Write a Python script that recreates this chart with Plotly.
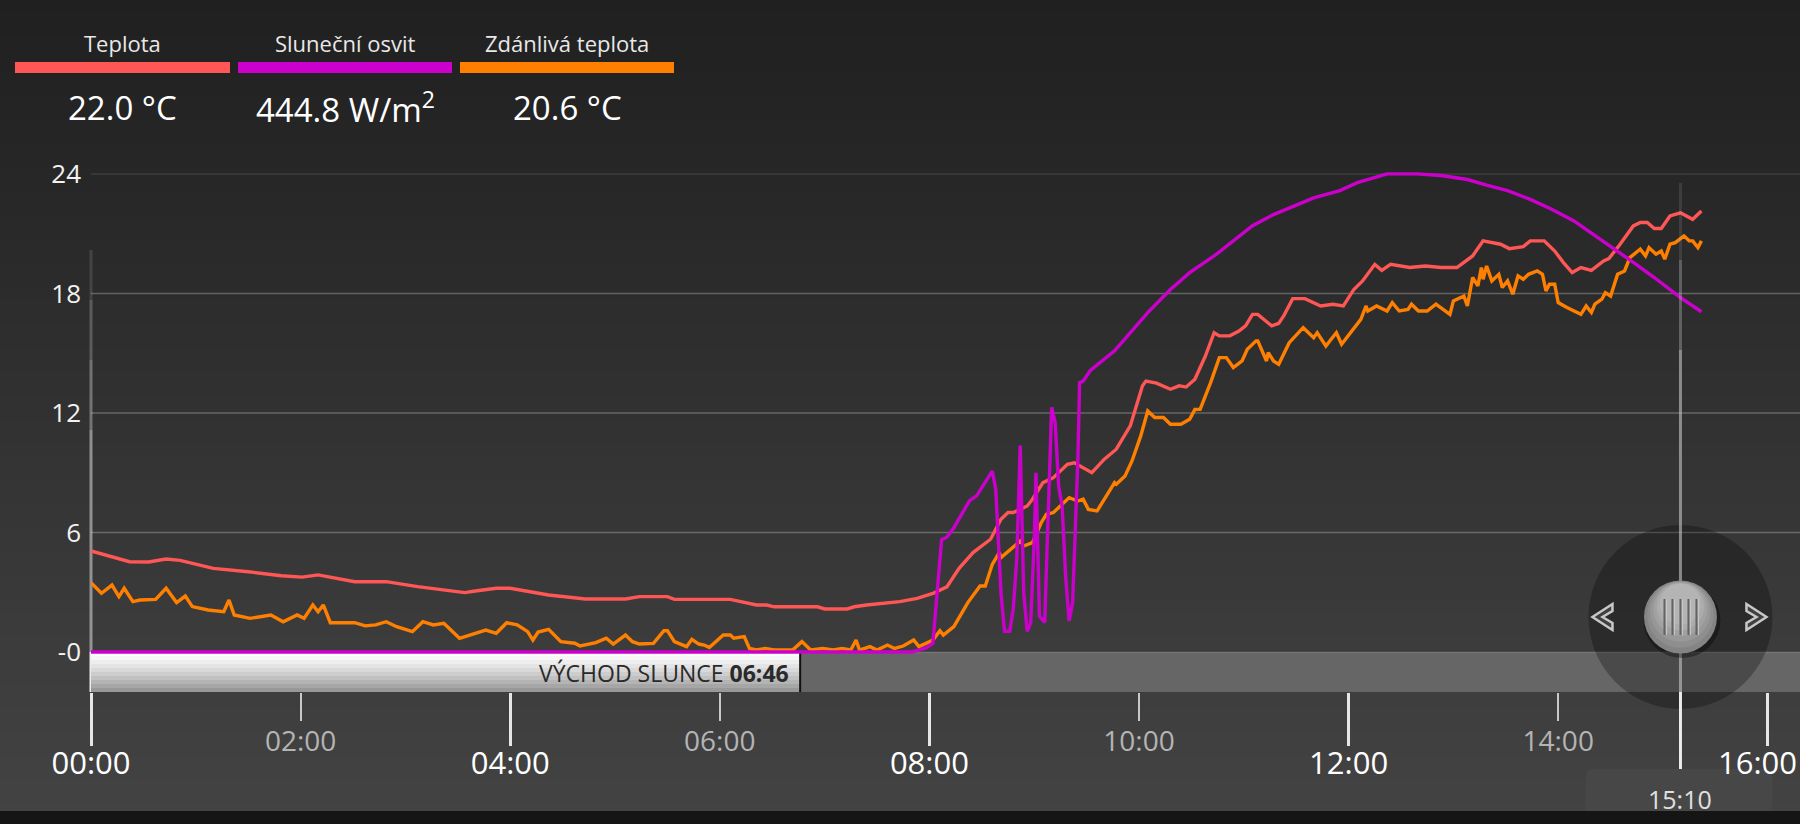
import pandas as pd
import plotly.graph_objects as go

DAY = "2024-05-14 "

# ---------------- data ----------------
teplota_cas = ["00:00", "00:22", "00:33", "00:43", "00:51", "01:10", "01:30", "01:49", "02:01", "02:10",
               "02:31", "02:49", "03:07", "03:22", "03:34", "03:39", "03:52", "04:00", "04:22", "04:43",
               "05:06", "05:14", "05:30", "05:34", "06:06", "06:12", "06:21", "06:27", "06:31", "06:56",
               "07:00", "07:13", "07:17", "07:24", "07:34", "07:43", "07:53", "08:02", "08:10", "08:17",
               "08:25", "08:35", "08:41", "08:45", "08:48", "08:56", "08:59", "09:05", "09:11", "09:19",
               "09:23", "09:29", "09:33", "09:40", "09:47", "09:55", "10:02", "10:04", "10:10", "10:18",
               "10:23", "10:27", "10:32", "10:38", "10:43", "10:46", "10:52", "10:57", "11:01", "11:05",
               "11:08", "11:16", "11:20", "11:23", "11:28", "11:35", "11:44", "11:51", "11:57", "12:03",
               "12:08", "12:15", "12:19", "12:24", "12:35", "12:44", "12:53", "13:02", "13:08", "13:11",
               "13:17", "13:21", "13:27", "13:32", "13:40", "13:44", "13:52", "13:58", "14:03", "14:08",
               "14:13", "14:19", "14:22", "14:26", "14:29", "14:35", "14:43", "14:47", "14:51", "14:55",
               "14:59", "15:04", "15:10", "15:17", "15:22"]
teplota = [5.07, 4.53, 4.52, 4.67, 4.6, 4.2, 4.03, 3.83, 3.76, 3.87,
           3.53, 3.53, 3.28, 3.11, 2.98, 3.05, 3.2, 3.2, 2.86, 2.66,
           2.66, 2.78, 2.78, 2.64, 2.64, 2.53, 2.36, 2.36, 2.27, 2.27,
           2.16, 2.16, 2.27, 2.36, 2.44, 2.53, 2.69, 2.94, 3.27, 4.2,
           4.99, 5.66, 6.66, 7.0, 7.0, 7.33, 7.67, 8.5, 8.75, 9.42,
           9.5, 9.17, 9.0, 9.67, 10.18, 11.35, 13.36, 13.6, 13.5, 13.19,
           13.36, 13.3, 13.69, 14.86, 16.03, 15.87, 15.87, 16.1, 16.37, 16.95,
           16.95, 16.37, 16.5, 16.9, 17.74, 17.74, 17.37, 17.46, 17.37, 18.2,
           18.63, 19.46, 19.16, 19.46, 19.3, 19.38, 19.3, 19.3, 19.72, 19.88,
           20.64, 20.56, 20.47, 20.25, 20.35, 20.64, 20.64, 20.13, 19.55, 19.05,
           19.3, 19.16, 19.38, 19.63, 19.75, 20.42, 21.39, 21.56, 21.56, 21.26,
           21.26, 21.89, 22.05, 21.72, 22.14]

osvit_cas = ["00:00", "07:50", "07:58", "08:02", "08:05", "08:07", "08:10", "08:14", "08:23", "08:27",
             "08:36", "08:38", "08:41", "08:43", "08:46", "08:48", "08:50", "08:52", "08:54", "08:56",
             "08:58", "09:00", "09:01", "09:03", "09:06", "09:08", "09:10", "09:12", "09:14", "09:16",
             "09:18", "09:20", "09:22", "09:25", "09:26", "09:28", "09:32", "09:46", "10:05", "10:18",
             "10:29", "10:43", "10:54", "11:05", "11:17", "11:31", "11:40", "11:55", "12:05", "12:22",
             "12:39", "12:53", "13:08", "13:19", "13:31", "13:44", "13:56", "14:09", "14:19", "14:32",
             "14:43", "14:55", "15:10", "15:22"]
osvit = [0, 0, 5, 11, 90, 141, 144, 156, 190, 196,
         227, 204, 74, 26, 26, 54, 116, 259, 74, 26,
         37, 140, 225, 45, 37, 179, 307, 288, 208, 183,
         95, 39, 62, 242, 338, 340, 353, 378, 426, 455,
         476, 497, 516, 535, 549, 562, 570, 579, 589, 600,
         600, 598, 593, 586, 579, 568, 556, 541, 526, 506,
         489, 470, 444.8, 427]

zdanliva_cas = ["00:00", "00:06", "00:12", "00:16", "00:19", "00:24", "00:28", "00:37", "00:43", "00:49",
                "00:54", "00:58", "01:07", "01:16", "01:19", "01:22", "01:31", "01:43", "01:50", "01:58",
                "02:02", "02:07", "02:10", "02:13", "02:17", "02:31", "02:37", "02:43", "02:49", "02:55",
                "03:04", "03:10", "03:16", "03:22", "03:31", "03:37", "03:46", "03:52", "03:58", "04:04",
                "04:10", "04:13", "04:16", "04:22", "04:29", "04:37", "04:40", "04:49", "04:52", "04:55",
                "04:59", "05:06", "05:10", "05:14", "05:22", "05:28", "05:30", "05:34", "05:41", "05:44",
                "05:48", "05:51", "05:54", "06:00", "06:02", "06:06", "06:08", "06:14", "06:17", "06:21",
                "06:26", "06:31", "06:42", "06:47", "06:52", "06:59", "07:05", "07:10", "07:15", "07:18",
                "07:20", "07:26", "07:30", "07:36", "07:40", "07:45", "07:51", "07:54", "07:58", "08:02",
                "08:06", "08:08", "08:14", "08:18", "08:22", "08:29", "08:32", "08:36", "08:40", "08:41",
                "08:48", "08:52", "08:54", "08:59", "09:04", "09:07", "09:11", "09:20", "09:25", "09:28",
                "09:31", "09:36", "09:46", "09:47", "09:52", "09:56", "10:01", "10:05", "10:09", "10:14",
                "10:18", "10:24", "10:29", "10:32", "10:35", "10:41", "10:46", "10:50", "10:54", "10:59",
                "11:02", "11:07", "11:08", "11:13", "11:14", "11:17", "11:20", "11:26", "11:34", "11:36",
                "11:40", "11:42", "11:47", "11:50", "11:53", "11:56", "12:01", "12:07", "12:10", "12:11",
                "12:16", "12:22", "12:25", "12:29", "12:34", "12:36", "12:40", "12:45", "12:50", "12:55",
                "12:58", "13:00", "13:06", "13:08", "13:11", "13:14", "13:16", "13:17", "13:19", "13:22",
                "13:26", "13:28", "13:31", "13:34", "13:37", "13:40", "13:43", "13:48", "13:51", "13:53",
                "13:55", "13:58", "14:00", "14:05", "14:11", "14:13", "14:16", "14:19", "14:21", "14:25",
                "14:27", "14:30", "14:34", "14:38", "14:41", "14:47", "14:50", "14:52", "14:56", "14:59",
                "15:01", "15:04", "15:07", "15:12", "15:15", "15:17", "15:20", "15:22"]
zdanliva = [3.48, 2.95, 3.36, 2.78, 3.2, 2.53, 2.61, 2.64, 3.2, 2.48,
            2.81, 2.28, 2.11, 2.02, 2.61, 1.86, 1.69, 1.86, 1.52, 1.86,
            1.69, 2.36, 2.02, 2.36, 1.47, 1.47, 1.31, 1.36, 1.52, 1.27,
            1.02, 1.52, 1.36, 1.44, 0.69, 0.86, 1.1, 0.94, 1.47, 1.36,
            1.02, 0.6, 1.0, 1.14, 0.52, 0.44, 0.3, 0.47, 0.6, 0.69,
            0.4, 0.85, 0.52, 0.4, 0.43, 1.07, 1.07, 0.52, 0.27, 0.64,
            0.4, 0.35, 0.23, 0.69, 0.85, 0.85, 0.69, 0.77, 0.18, 0.1,
            0.18, 0.1, 0.12, 0.52, 0.1, 0.18, 0.1, 0.18, 0.1, 0.6,
            0.1, 0.27, 0.1, 0.35, 0.18, 0.3, 0.6, 0.27, 0.43, 0.6,
            1.07, 0.85, 1.27, 1.86, 2.48, 3.31, 3.31, 4.4, 4.99, 4.74,
            5.24, 5.57, 5.32, 5.49, 6.49, 6.91, 7.0, 7.75, 7.58, 7.67,
            7.16, 7.08, 8.5, 8.42, 8.84, 9.59, 10.85, 12.1, 11.77, 11.77,
            11.43, 11.43, 11.68, 12.18, 12.18, 13.52, 14.78, 14.78, 14.28, 14.61,
            15.2, 15.62, 15.62, 14.61, 15.03, 14.61, 14.44, 15.53, 16.28, 16.12,
            15.78, 16.03, 15.36, 15.7, 16.03, 15.45, 16.03, 16.7, 17.37, 17.12,
            17.37, 17.12, 17.54, 17.12, 17.2, 17.46, 17.12, 17.12, 17.46, 17.12,
            16.95, 17.62, 17.87, 17.37, 18.8, 18.38, 19.3, 18.71, 19.38, 18.63,
            18.96, 18.3, 18.63, 17.96, 18.88, 18.71, 18.96, 19.13, 18.96, 18.13,
            18.46, 18.46, 17.54, 17.29, 17.04, 16.95, 17.37, 17.04, 17.46, 17.71,
            18.04, 17.87, 18.96, 19.13, 19.8, 20.22, 19.88, 20.3, 19.97, 20.13,
            19.72, 20.47, 20.55, 20.89, 20.64, 20.64, 20.3, 20.64]

y_tick_vals = [0, 6, 12, 18, 24]
y_tick_text = ["-0", "6", "12", "18", "24"]
major_hours = ["00:00", "04:00", "08:00", "12:00", "16:00"]
minor_hours = ["02:00", "06:00", "10:00", "14:00"]
legend_names = ["Teplota", "Sluneční osvit", "Zdánlivá teplota"]
legend_values = ["22.0 °C", "444.8 W/m<sup>2</sup>", "20.6 °C"]
sunrise_label = "VÝCHOD SLUNCE"
sunrise = "06:46"
cursor = "15:10"
sun_per_unit = 25.0   # W/m2 per unit of the temperature axis

# ---------------- styling / geometry ----------------
C_RED, C_PUR, C_ORA = "#FF5656", "#CC00CC", "#FF8000"
FONT = "Open Sans, Noto Sans, sans-serif"
W, H = 1800, 824
PL, PT, PB = 91, 120, 692          # plot left / top / bottom pixel
Y0PX, PXU, PXH = 652, 19.92, 104.8  # pixel of 0, px per unit, px per hour
LW = 3.4

y_range = [-(PB - Y0PX) / PXU, (Y0PX - PT) / PXU]
sun_range = [v * sun_per_unit for v in y_range]
t0 = pd.Timestamp(DAY + "00:00")
t_end = t0 + pd.Timedelta(hours=(W - PL) / PXH)
x_range = [str(t0), str(t_end)]


def T(s):
    return pd.to_datetime([DAY + v for v in s])


def ts(s):
    return DAY + s


def pxx(p):
    return (p - PL) / (W - PL)


def pxy(p):
    return (PB - p) / (PB - PT)


def val(p):
    return (Y0PX - p) / PXU


fig = go.Figure()
fig.add_trace(go.Scatter(x=T(teplota_cas), y=teplota, mode="lines",
                         line=dict(color=C_RED, width=LW), hoverinfo="skip"))
fig.add_trace(go.Scatter(x=T(zdanliva_cas), y=zdanliva, mode="lines",
                         line=dict(color=C_ORA, width=LW), hoverinfo="skip"))
fig.add_trace(go.Scatter(x=T(osvit_cas), y=osvit, mode="lines", xaxis="x2", yaxis="y2",
                         line=dict(color=C_PUR, width=LW), hoverinfo="skip"))

shapes = []


def hexg(v):
    v = max(0, min(255, int(round(v))))
    return "#%02x%02x%02x" % (v, v, v)


# background gradient
stops = [(0, 0x20), (160, 0x26), (650, 0x3c), (811, 0x43)]


def bg(p):
    for (a, ca), (b, cb) in zip(stops[:-1], stops[1:]):
        if a <= p <= b:
            return ca + (cb - ca) * (p - a) / (b - a)
    return stops[-1][1]


step = 12
for p in range(0, 811, step):
    shapes.append(dict(type="rect", xref="paper", yref="paper", layer="below",
                       x0=pxx(-2), x1=pxx(W + 2), y0=pxy(p), y1=pxy(min(p + step + 1, 811)),
                       fillcolor=hexg(bg(p + step / 2)), line=dict(width=0)))

# gridlines
for g, a in [(6, 0.26), (12, 0.26), (18, 0.26), (24, 0.10)]:
    shapes.append(dict(type="line", xref="paper", yref="y", layer="below",
                       x0=0, x1=1, y0=g, y1=g, line=dict(color="rgba(255,255,255,%.2f)" % a, width=1.5)))

# left axis line with fade
for a, b, op in [(250, 300, 0.12), (300, 360, 0.22), (360, 430, 0.32), (430, 652, 0.45), (652, 692, 0.9)]:
    shapes.append(dict(type="line", xref="paper", yref="paper", layer="below",
                       x0=0, x1=0, y0=pxy(a), y1=pxy(b),
                       line=dict(color="rgba(255,255,255,%.2f)" % op, width=3)))

# sunrise band (white gradient part)
nb = 10
for i in range(nb):
    p0 = Y0PX + (PB - Y0PX) * i / nb
    p1 = Y0PX + (PB - Y0PX) * (i + 1) / nb
    c = 0xfc - (0xfc - 0x98) * (i / (nb - 1)) ** 1.3
    shapes.append(dict(type="rect", xref="x", yref="y", layer="below",
                       x0=str(t0 - pd.Timedelta(minutes=2)), x1=ts(sunrise), y0=val(p0), y1=val(p1 + 0.5),
                       fillcolor=hexg(c), line=dict(width=0)))
# grey part of band
shapes.append(dict(type="rect", xref="x", yref="y", layer="below",
                   x0=ts(sunrise), x1=x_range[1], y0=val(Y0PX), y1=val(PB),
                   fillcolor="#666666", line=dict(width=0)))
shapes.append(dict(type="line", xref="x", yref="y", layer="below",
                   x0=ts(sunrise), x1=x_range[1], y0=val(Y0PX + 0.5), y1=val(Y0PX + 0.5),
                   line=dict(color="#747474", width=1.5)))
shapes.append(dict(type="line", xref="x", yref="y", layer="below",
                   x0=ts(sunrise), x1=ts(sunrise), y0=val(Y0PX), y1=val(PB),
                   line=dict(color="#111111", width=2)))

# cursor control
cy = pxy(617)


def knob_shape(kind, **kw):
    d = dict(type=kind, xref="x", yref="paper", layer="above",
             xsizemode="pixel", ysizemode="pixel", xanchor=ts(cursor), yanchor=cy)
    d.update(kw)
    return d


shapes.append(knob_shape("circle", x0=-92, x1=92, y0=-92, y1=92,
                         fillcolor="rgba(0,0,0,0.27)", line=dict(width=0)))
for a, b, col in [(183, 260, "rgba(190,190,190,0.15)"), (260, 350, "rgba(195,195,195,0.35)"),
                  (350, 692, "rgba(200,200,200,0.6)"), (692, 770, "rgba(245,245,245,0.95)")]:
    shapes.append(dict(type="line", xref="x", yref="paper", layer="above",
                       x0=ts(cursor), x1=ts(cursor), y0=pxy(a), y1=pxy(b),
                       line=dict(color=col, width=3)))
# knob: shadow + layered gradient
shapes.append(knob_shape("circle", x0=-37, x1=40, y0=-41, y1=34,
                         fillcolor="rgba(0,0,0,0.35)", line=dict(width=0)))
for i, c in enumerate([0x84, 0x8e, 0x98, 0xa2, 0xac, 0xb4]):
    r = 36.5 - i * 3.2
    dy = i * 2.6
    shapes.append(knob_shape("circle", x0=-r, x1=r, y0=-r + dy, y1=r + dy,
                             fillcolor=hexg(c), line=dict(width=0)))
for dx in [-16, -8, 0, 8, 16]:
    shapes.append(knob_shape("line", x0=dx, x1=dx, y0=-18, y1=18, line=dict(color="#636363", width=2)))
    shapes.append(knob_shape("line", x0=dx + 2, x1=dx + 2, y0=-18, y1=18, line=dict(color="#c6c6c6", width=1)))
# arrows
for cx, d in [(-77, 1), (75, -1)]:
    path = "M %g,%g L %g,%g L %g,%g L %g,%g L %g,%g L %g,%g Z" % (
        cx + 9 * d, 13, cx - 11 * d, 0, cx + 9 * d, -13,
        cx + 9 * d, -6, cx - 1 * d, 0, cx + 9 * d, 6)
    shapes.append(knob_shape("path", path=path, fillcolor="rgba(70,70,70,0.8)",
                             line=dict(color="#c8c8c8", width=2.5)))
# time box
box = "M -95,-215 L -95,-161 Q -95,-152 -86,-152 L 83,-152 Q 92,-152 92,-161 L 92,-215 Z"
shapes.append(knob_shape("path", path=box, fillcolor="#474747", line=dict(width=0)))
# bottom dark strip
shapes.append(dict(type="rect", xref="paper", yref="paper", layer="above",
                   x0=pxx(-2), x1=pxx(W + 2), y0=pxy(811), y1=pxy(H + 2),
                   fillcolor="#151515", line=dict(width=0)))

# legend bars
bars = [(15, 230), (238, 452), (460, 674)]
for (a, b), c in zip(bars, [C_RED, C_PUR, C_ORA]):
    shapes.append(dict(type="rect", xref="paper", yref="paper", layer="above",
                       x0=pxx(a), x1=pxx(b), y0=pxy(62), y1=pxy(73),
                       fillcolor=c, line=dict(width=0)))

annotations = []
for (a, b), name, v in zip(bars, legend_names, legend_values):
    cxp = pxx((a + b) / 2)
    annotations.append(dict(xref="paper", yref="paper", x=cxp, y=pxy(43), text=name,
                            showarrow=False, xanchor="center", yanchor="middle",
                            font=dict(family=FONT, size=22, color="#e8e8e8")))
    annotations.append(dict(xref="paper", yref="paper", x=cxp, y=pxy(108), text=v,
                            showarrow=False, xanchor="center", yanchor="middle",
                            font=dict(family=FONT, size=33, color="#ffffff")))

annotations.append(dict(xref="x", yref="y", x=ts(sunrise), y=val(673), xanchor="right", yanchor="middle",
                        xshift=-9, showarrow=False,
                        text=sunrise_label + " <b>" + sunrise + "</b>",
                        font=dict(family=FONT, size=23, color="#2a2a2a")))
# last major hour label sits at the right edge of the page (kept inside it)
annotations.append(dict(xref="x", yref="paper", x=ts(major_hours[-1]), y=pxy(762),
                        xanchor="right", yanchor="middle", xshift=W - 1 - (PL + 16 * PXH),
                        showarrow=False, text=major_hours[-1],
                        font=dict(family=FONT, size=31, color="#ffffff")))
annotations.append(dict(xref="x", yref="paper", x=ts(cursor), y=pxy(799), xanchor="center", yanchor="middle",
                        showarrow=False, text=cursor,
                        font=dict(family=FONT, size=25, color="#e0e0e0")))

fig.update_layout(
    width=W, height=H,
    margin=dict(l=PL, r=0, t=PT, b=H - PB, pad=0),
    paper_bgcolor="#2a2a2a", plot_bgcolor="rgba(0,0,0,0)",
    showlegend=False,
    shapes=shapes, annotations=annotations,
    xaxis=dict(type="date", range=x_range, tickmode="array",
               tickvals=[ts(h) for h in major_hours], ticktext=major_hours,
               ticks="outside", ticklen=53, tickwidth=3, tickcolor="#e6e6e6",
               ticklabelstandoff=-9, ticklabeloverflow="hide past div",
               tickfont=dict(family=FONT, size=31, color="#ffffff"),
               showgrid=False, zeroline=False, showline=False, fixedrange=True),
    xaxis2=dict(type="date", range=x_range, overlaying="x", anchor="y2", side="bottom",
                tickmode="array", tickvals=[ts(h) for h in minor_hours], ticktext=minor_hours,
                ticks="outside", ticklen=28, tickwidth=2, tickcolor="#c8c8c8",
                ticklabelstandoff=-4,
                tickfont=dict(family=FONT, size=28, color="#b4b4b4"),
                showgrid=False, zeroline=False, showline=False, fixedrange=True),
    yaxis=dict(range=y_range, tickmode="array", tickvals=y_tick_vals, ticktext=y_tick_text,
               ticks="", ticklabelstandoff=9, tickfont=dict(family=FONT, size=26, color="#f2f2f2"),
               showgrid=False, zeroline=False, showline=False, fixedrange=True),
    yaxis2=dict(range=sun_range, overlaying="y", anchor="x2", visible=False, fixedrange=True),
)

fig.write_html("out.html", config=dict(displayModeBar=False, staticPlot=True),
               post_script="document.documentElement.style.overflow='hidden';"
                           "document.body.style.margin='0';document.body.style.overflow='hidden';"
                           "document.body.style.background='#151515';")
